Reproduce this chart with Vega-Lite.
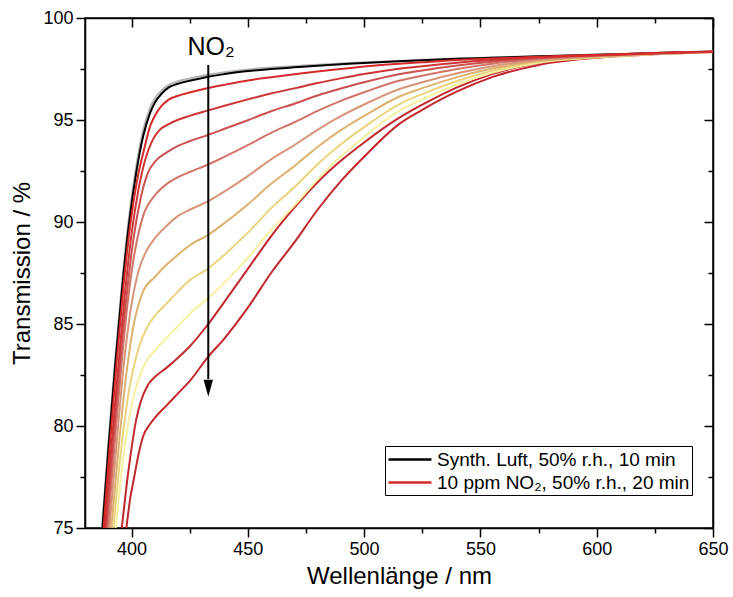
{
 "$schema": "https://vega.github.io/schema/vega-lite/v6.json",
 "width": 628, "height": 510,
 "autosize": {"type": "none"},
 "padding": {"left": 85, "top": 18, "right": 20, "bottom": 69},
 "background": "white",
 "config": {
  "view": {"stroke": "black", "strokeWidth": 1.5},
  "font": "Liberation Sans",
  "axis": {"domainColor": "black", "domainWidth": 1.5, "tickColor": "black", "tickWidth": 1.5, "labelColor": "black", "titleColor": "black", "labelFont": "Liberation Sans", "titleFont": "Liberation Sans", "titleFontWeight": "normal", "labelFontSize": 18, "titleFontSize": 24, "grid": false, "labelFlush": false, "labelOverlap": false}
 },
 "layer": [
  {
   "data": {"values": [
    {"s":"air2","x":387.3,"y":75},{"s":"air2","x":390,"y":79.1},{"s":"air2","x":393,"y":83.3},{"s":"air2","x":396,"y":87.1},{"s":"air2","x":399,"y":90.3},{"s":"air2","x":402,"y":92.7},{"s":"air2","x":405,"y":94.5},{"s":"air2","x":408,"y":95.6},{"s":"air2","x":410,"y":96.05},{"s":"air2","x":413,"y":96.45},{"s":"air2","x":416,"y":96.72},{"s":"air2","x":420,"y":96.9},{"s":"air2","x":425,"y":97.03},{"s":"air2","x":433,"y":97.22},{"s":"air2","x":440,"y":97.34},{"s":"air2","x":450,"y":97.48},{"s":"air2","x":460,"y":97.57},{"s":"air2","x":470,"y":97.64},{"s":"air2","x":480,"y":97.71},{"s":"air2","x":490,"y":97.77},{"s":"air2","x":500,"y":97.83},{"s":"air2","x":515,"y":97.9},{"s":"air2","x":525,"y":97.95},{"s":"air2","x":540,"y":98.01},{"s":"air2","x":555,"y":98.06},{"s":"air2","x":575,"y":98.13},{"s":"air2","x":600,"y":98.21},{"s":"air2","x":625,"y":98.29},{"s":"air2","x":650,"y":98.37},
    {"s":"air","x":387.5,"y":75},{"s":"air","x":390,"y":78.8},{"s":"air","x":393,"y":83.0},{"s":"air","x":396,"y":86.8},{"s":"air","x":399,"y":90.0},{"s":"air","x":402,"y":92.4},{"s":"air","x":405,"y":94.2},{"s":"air","x":408,"y":95.35},{"s":"air","x":410,"y":95.85},{"s":"air","x":413,"y":96.3},{"s":"air","x":416,"y":96.6},{"s":"air","x":420,"y":96.78},{"s":"air","x":425,"y":96.92},{"s":"air","x":433,"y":97.12},{"s":"air","x":440,"y":97.25},{"s":"air","x":450,"y":97.4},{"s":"air","x":460,"y":97.5},{"s":"air","x":470,"y":97.58},{"s":"air","x":480,"y":97.66},{"s":"air","x":490,"y":97.73},{"s":"air","x":500,"y":97.8},{"s":"air","x":515,"y":97.88},{"s":"air","x":525,"y":97.93},{"s":"air","x":540,"y":98.0},{"s":"air","x":555,"y":98.05},{"s":"air","x":575,"y":98.12},{"s":"air","x":600,"y":98.2},{"s":"air","x":625,"y":98.28},{"s":"air","x":650,"y":98.35},
    {"s":"n10","x":397.8,"y":75},{"s":"n10","x":399.5,"y":76.5},{"s":"n10","x":401,"y":77.4},{"s":"n10","x":403,"y":78.6},{"s":"n10","x":405,"y":79.5},{"s":"n10","x":408,"y":80.1},{"s":"n10","x":410,"y":80.4},{"s":"n10","x":415,"y":81.0},{"s":"n10","x":420,"y":81.6},{"s":"n10","x":425,"y":82.2},{"s":"n10","x":433,"y":83.4},{"s":"n10","x":440,"y":84.3},{"s":"n10","x":450,"y":85.8},{"s":"n10","x":460,"y":87.5},{"s":"n10","x":470,"y":89.0},{"s":"n10","x":480,"y":90.6},{"s":"n10","x":490,"y":92.0},{"s":"n10","x":500,"y":93.2},{"s":"n10","x":515,"y":94.8},{"s":"n10","x":525,"y":95.5},{"s":"n10","x":540,"y":96.4},{"s":"n10","x":555,"y":97.1},{"s":"n10","x":575,"y":97.7},{"s":"n10","x":600,"y":98.05},{"s":"n10","x":625,"y":98.22},{"s":"n10","x":650,"y":98.33},
    {"s":"n9","x":395.8,"y":75},{"s":"n9","x":398,"y":77.2},{"s":"n9","x":400,"y":78.9},{"s":"n9","x":402,"y":80.3},{"s":"n9","x":404,"y":81.2},{"s":"n9","x":407,"y":82.0},{"s":"n9","x":410,"y":82.4},{"s":"n9","x":415,"y":82.85},{"s":"n9","x":420,"y":83.35},{"s":"n9","x":425,"y":83.9},{"s":"n9","x":433,"y":85.0},{"s":"n9","x":440,"y":86.1},{"s":"n9","x":450,"y":87.7},{"s":"n9","x":460,"y":89.3},{"s":"n9","x":470,"y":90.7},{"s":"n9","x":480,"y":91.95},{"s":"n9","x":490,"y":93.0},{"s":"n9","x":500,"y":93.9},{"s":"n9","x":515,"y":95.1},{"s":"n9","x":525,"y":95.75},{"s":"n9","x":540,"y":96.6},{"s":"n9","x":555,"y":97.25},{"s":"n9","x":575,"y":97.8},{"s":"n9","x":600,"y":98.08},{"s":"n9","x":625,"y":98.23},{"s":"n9","x":650,"y":98.33},
    {"s":"n8","x":393.2,"y":75},{"s":"n8","x":396.5,"y":78.5},{"s":"n8","x":400,"y":81.0},{"s":"n8","x":404,"y":82.6},{"s":"n8","x":407,"y":83.3},{"s":"n8","x":410,"y":83.7},{"s":"n8","x":415,"y":84.3},{"s":"n8","x":420,"y":84.9},{"s":"n8","x":425,"y":85.5},{"s":"n8","x":433,"y":86.27},{"s":"n8","x":440,"y":87.03},{"s":"n8","x":450,"y":88.24},{"s":"n8","x":460,"y":89.61},{"s":"n8","x":470,"y":90.8},{"s":"n8","x":480,"y":92.08},{"s":"n8","x":490,"y":93.21},{"s":"n8","x":500,"y":94.17},{"s":"n8","x":515,"y":95.45},{"s":"n8","x":525,"y":96.01},{"s":"n8","x":540,"y":96.74},{"s":"n8","x":555,"y":97.31},{"s":"n8","x":575,"y":97.81},{"s":"n8","x":600,"y":98.07},{"s":"n8","x":625,"y":98.22},{"s":"n8","x":650,"y":98.33},
    {"s":"n7","x":392.2,"y":75},{"s":"n7","x":395.5,"y":78.8},{"s":"n7","x":399,"y":81.8},{"s":"n7","x":403,"y":83.8},{"s":"n7","x":407,"y":84.9},{"s":"n7","x":410,"y":85.4},{"s":"n7","x":415,"y":86.0},{"s":"n7","x":420,"y":86.6},{"s":"n7","x":425,"y":87.14},{"s":"n7","x":433,"y":87.72},{"s":"n7","x":440,"y":88.4},{"s":"n7","x":450,"y":89.47},{"s":"n7","x":460,"y":90.67},{"s":"n7","x":470,"y":91.7},{"s":"n7","x":480,"y":92.83},{"s":"n7","x":490,"y":93.81},{"s":"n7","x":500,"y":94.65},{"s":"n7","x":515,"y":95.77},{"s":"n7","x":525,"y":96.27},{"s":"n7","x":540,"y":96.91},{"s":"n7","x":555,"y":97.41},{"s":"n7","x":575,"y":97.85},{"s":"n7","x":600,"y":98.08},{"s":"n7","x":625,"y":98.23},{"s":"n7","x":650,"y":98.34},
    {"s":"n6","x":391.3,"y":75},{"s":"n6","x":394.5,"y":79},{"s":"n6","x":397.5,"y":82.3},{"s":"n6","x":401,"y":85.0},{"s":"n6","x":405,"y":86.6},{"s":"n6","x":410,"y":87.3},{"s":"n6","x":415,"y":87.9},{"s":"n6","x":420,"y":88.4},{"s":"n6","x":425,"y":88.86},{"s":"n6","x":433,"y":89.37},{"s":"n6","x":440,"y":89.95},{"s":"n6","x":450,"y":90.86},{"s":"n6","x":460,"y":91.87},{"s":"n6","x":470,"y":92.74},{"s":"n6","x":480,"y":93.68},{"s":"n6","x":490,"y":94.5},{"s":"n6","x":500,"y":95.2},{"s":"n6","x":515,"y":96.14},{"s":"n6","x":525,"y":96.56},{"s":"n6","x":540,"y":97.1},{"s":"n6","x":555,"y":97.52},{"s":"n6","x":575,"y":97.9},{"s":"n6","x":600,"y":98.11},{"s":"n6","x":625,"y":98.24},{"s":"n6","x":650,"y":98.34},
    {"s":"n5","x":390.5,"y":75},{"s":"n5","x":393.5,"y":79},{"s":"n5","x":396.5,"y":82.8},{"s":"n5","x":399.5,"y":85.6},{"s":"n5","x":403,"y":87.6},{"s":"n5","x":406.5,"y":88.6},{"s":"n5","x":410,"y":89.2},{"s":"n5","x":415,"y":89.8},{"s":"n5","x":420,"y":90.3},{"s":"n5","x":425,"y":90.6},{"s":"n5","x":433,"y":91.02},{"s":"n5","x":440,"y":91.5},{"s":"n5","x":450,"y":92.25},{"s":"n5","x":460,"y":93.07},{"s":"n5","x":470,"y":93.77},{"s":"n5","x":480,"y":94.52},{"s":"n5","x":490,"y":95.19},{"s":"n5","x":500,"y":95.76},{"s":"n5","x":515,"y":96.51},{"s":"n5","x":525,"y":96.85},{"s":"n5","x":540,"y":97.29},{"s":"n5","x":555,"y":97.64},{"s":"n5","x":575,"y":97.94},{"s":"n5","x":600,"y":98.13},{"s":"n5","x":625,"y":98.25},{"s":"n5","x":650,"y":98.34},
    {"s":"n4","x":389.8,"y":75},{"s":"n4","x":392.5,"y":78.8},{"s":"n4","x":395.5,"y":82.8},{"s":"n4","x":398.5,"y":86.2},{"s":"n4","x":401.5,"y":88.6},{"s":"n4","x":405,"y":90.3},{"s":"n4","x":410,"y":91.3},{"s":"n4","x":415,"y":91.85},{"s":"n4","x":420,"y":92.2},{"s":"n4","x":425,"y":92.45},{"s":"n4","x":433,"y":92.82},{"s":"n4","x":440,"y":93.2},{"s":"n4","x":450,"y":93.77},{"s":"n4","x":460,"y":94.37},{"s":"n4","x":470,"y":94.89},{"s":"n4","x":480,"y":95.45},{"s":"n4","x":490,"y":95.94},{"s":"n4","x":500,"y":96.36},{"s":"n4","x":515,"y":96.92},{"s":"n4","x":525,"y":97.17},{"s":"n4","x":540,"y":97.5},{"s":"n4","x":555,"y":97.76},{"s":"n4","x":575,"y":98.0},{"s":"n4","x":600,"y":98.15},{"s":"n4","x":625,"y":98.26},{"s":"n4","x":650,"y":98.34},
    {"s":"n3","x":389.2,"y":75},{"s":"n3","x":392,"y":79.0},{"s":"n3","x":395,"y":83.0},{"s":"n3","x":398,"y":86.5},{"s":"n3","x":401,"y":89.3},{"s":"n3","x":404,"y":91.2},{"s":"n3","x":407,"y":92.4},{"s":"n3","x":410,"y":92.95},{"s":"n3","x":415,"y":93.4},{"s":"n3","x":420,"y":93.73},{"s":"n3","x":425,"y":93.96},{"s":"n3","x":433,"y":94.27},{"s":"n3","x":440,"y":94.57},{"s":"n3","x":450,"y":94.99},{"s":"n3","x":460,"y":95.43},{"s":"n3","x":470,"y":95.8},{"s":"n3","x":480,"y":96.2},{"s":"n3","x":490,"y":96.54},{"s":"n3","x":500,"y":96.85},{"s":"n3","x":515,"y":97.24},{"s":"n3","x":525,"y":97.43},{"s":"n3","x":540,"y":97.67},{"s":"n3","x":555,"y":97.86},{"s":"n3","x":575,"y":98.04},{"s":"n3","x":600,"y":98.17},{"s":"n3","x":625,"y":98.27},{"s":"n3","x":650,"y":98.35},
    {"s":"n2","x":388.6,"y":75},{"s":"n2","x":391,"y":78.5},{"s":"n2","x":394,"y":82.5},{"s":"n2","x":397,"y":86.3},{"s":"n2","x":400,"y":89.4},{"s":"n2","x":403,"y":91.6},{"s":"n2","x":406,"y":93.1},{"s":"n2","x":409,"y":94.0},{"s":"n2","x":412,"y":94.5},{"s":"n2","x":416,"y":94.8},{"s":"n2","x":420,"y":95.01},{"s":"n2","x":425,"y":95.2},{"s":"n2","x":433,"y":95.47},{"s":"n2","x":440,"y":95.7},{"s":"n2","x":450,"y":96.01},{"s":"n2","x":460,"y":96.3},{"s":"n2","x":470,"y":96.55},{"s":"n2","x":480,"y":96.81},{"s":"n2","x":490,"y":97.04},{"s":"n2","x":500,"y":97.25},{"s":"n2","x":515,"y":97.51},{"s":"n2","x":525,"y":97.64},{"s":"n2","x":540,"y":97.81},{"s":"n2","x":555,"y":97.94},{"s":"n2","x":575,"y":98.07},{"s":"n2","x":600,"y":98.18},{"s":"n2","x":625,"y":98.27},{"s":"n2","x":650,"y":98.35},
    {"s":"n1","x":388,"y":75},{"s":"n1","x":390.5,"y":78.8},{"s":"n1","x":393.5,"y":83.0},{"s":"n1","x":396.5,"y":86.8},{"s":"n1","x":399.5,"y":89.9},{"s":"n1","x":402.5,"y":92.1},{"s":"n1","x":405.5,"y":93.6},{"s":"n1","x":408,"y":94.7},{"s":"n1","x":410,"y":95.2},{"s":"n1","x":413,"y":95.7},{"s":"n1","x":416,"y":96.0},{"s":"n1","x":420,"y":96.19},{"s":"n1","x":425,"y":96.35},{"s":"n1","x":433,"y":96.57},{"s":"n1","x":440,"y":96.73},{"s":"n1","x":450,"y":96.94},{"s":"n1","x":460,"y":97.1},{"s":"n1","x":470,"y":97.24},{"s":"n1","x":480,"y":97.38},{"s":"n1","x":490,"y":97.5},{"s":"n1","x":500,"y":97.62},{"s":"n1","x":515,"y":97.76},{"s":"n1","x":525,"y":97.83},{"s":"n1","x":540,"y":97.94},{"s":"n1","x":555,"y":98.01},{"s":"n1","x":575,"y":98.1},{"s":"n1","x":600,"y":98.19},{"s":"n1","x":625,"y":98.28},{"s":"n1","x":650,"y":98.35}
   ]},
   "mark": {"type": "line", "strokeWidth": 2, "clip": true, "interpolate": "monotone"},
   "encoding": {
    "x": {"field": "x", "type": "quantitative", "scale": {"domain": [380, 650], "nice": false, "zero": false},
      "axis": {"orient": "bottom", "title": "Wellenlänge / nm", "values": [400,425,450,475,500,525,550,575,600,625,650], "labelExpr": "datum.value % 50 === 0 ? datum.label : ''", "tickSize": {"condition": {"test": "datum.value % 50 === 0", "value": 9}, "value": 5}, "labelPadding": 3, "titlePadding": 6}},
    "y": {"field": "y", "type": "quantitative", "scale": {"domain": [75, 100], "nice": false, "zero": false},
      "axis": {"orient": "left", "title": "Transmission / %", "values": [75,77.5,80,82.5,85,87.5,90,92.5,95,97.5,100], "labelExpr": "datum.value % 5 === 0 ? datum.label : ''", "tickSize": {"condition": {"test": "datum.value % 5 === 0", "value": 9}, "value": 5}, "labelPadding": 3, "titlePadding": 8}},
    "color": {"field": "s", "type": "nominal",
      "scale": {"domain": ["air2","air","n10","n9","n8","n7","n6","n5","n4","n3","n2","n1"], "range": ["#b4b4b4","#000000","#c1272d","#c1272d","#f6f0a0","#ead47c","#dcb26e","#d9957a","#d27468","#cc5050","#cf3434","#d42a2a"]},
      "legend": {"orient": "none", "legendX": 300, "legendY": 428, "values": ["air","n1"], "title": null, "labelExpr": "datum.label === 'air' ? 'Synth. Luft, 50% r.h., 10 min' : '10 ppm NO₂, 50% r.h., 20 min'", "symbolType": "M-1,0H3.3", "symbolSize": 400, "symbolStrokeWidth": 2.5, "symbolFillColor": "transparent", "labelFontSize": 19, "labelFont": "Liberation Sans", "labelColor": "black", "labelLimit": 400, "labelOffset": 27, "strokeColor": "black", "padding": 2, "rowPadding": 1}}
   }
  },
  {
   "data": {"values": [{"x": 433, "y": 97.7, "y2": 82.3}]},
   "mark": {"type": "rule", "strokeWidth": 2, "color": "black"},
   "encoding": {
    "x": {"field": "x", "type": "quantitative",
      "axis": {"orient": "top", "title": null, "labels": false, "values": [400,425,450,475,500,525,550,575,600,625,650], "tickSize": {"condition": {"test": "datum.value % 50 === 0", "value": -9}, "value": -5}}},
    "y": {"field": "y", "type": "quantitative",
      "axis": {"orient": "right", "title": null, "labels": false, "values": [75,77.5,80,82.5,85,87.5,90,92.5,95,97.5,100], "tickSize": {"condition": {"test": "datum.value % 5 === 0", "value": -9}, "value": -5}}},
    "y2": {"field": "y2"}
   }
  },
  {
   "data": {"values": [{"x": 433, "y": 81.85}]},
   "mark": {"type": "point", "shape": "M-0.55,-1L0.55,-1L0,1Z", "filled": true, "color": "black", "opacity": 1, "size": 289},
   "encoding": {
    "x": {"field": "x", "type": "quantitative", "axis": null},
    "y": {"field": "y", "type": "quantitative", "axis": null}
   }
  },
  {
   "data": {"values": [{"x": 434.2, "y": 98.19, "t": "NO₂"}]},
   "mark": {"type": "text", "fontSize": 25, "font": "Liberation Sans", "align": "center", "baseline": "alphabetic", "color": "black"},
   "encoding": {
    "x": {"field": "x", "type": "quantitative", "axis": null},
    "y": {"field": "y", "type": "quantitative", "axis": null},
    "text": {"field": "t"}
   }
  }
 ]
}
